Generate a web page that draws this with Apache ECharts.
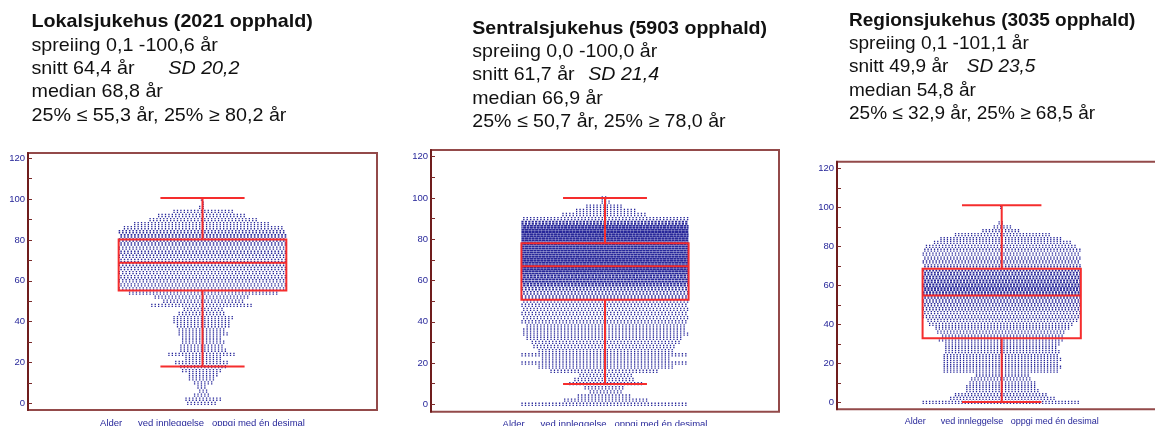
<!DOCTYPE html>
<html>
<head>
<meta charset="utf-8">
<script src="https://cdn.jsdelivr.net/npm/echarts@6/dist/echarts.min.js"></script>
<style>
  html, body { margin: 0; padding: 0; background: #ffffff; }
  #main { width: 1155px; height: 426px; }
</style>
</head>
<body>
<div id="main"></div>
<script>
// Age at admission, one panel per hospital level
const hospitals = ['Lokalsjukehus', 'Sentralsjukehus', 'Regionsjukehus'];
const stays = [2021, 5903, 3035];
const minAge = [0.1, 0.0, 0.1];
const maxAge = [100.6, 100.0, 101.1];
const meanAge = [64.4, 61.7, 49.9];
const sdAge = [20.2, 21.4, 23.5];
const medianAge = [68.8, 66.9, 54.8];
const q1Age = [55.3, 50.7, 32.9];
const q3Age = [80.2, 78.0, 68.5];
const lowerWhisker = [18.0, 9.8, 0.1];

const yTickLabels = [0, 20, 40, 60, 80, 100, 120];
const yTickMarks = [0, 10, 20, 30, 40, 50, 60, 70, 80, 90, 100, 110, 120];
const axisTitle = 'Alder      ved innleggelse   oppgi med én desimal';

// Swarm rows: two-year age bands, number of dots side by side in each band
const ageRows = [0, 2, 4, 6, 8, 10, 12, 14, 16, 18, 20, 22, 24, 26, 28, 30, 32, 34, 36, 38, 40,
  42, 44, 46, 48, 50, 52, 54, 56, 58, 60, 62, 64, 66, 68, 70, 72, 74, 76, 78, 80,
  82, 84, 86, 88, 90, 92, 94, 96, 98, 100];
const lokalRows = [9, 11, 5, 3, 3, 6, 8, 9, 12, 14, 16, 11, 20, 14, 13, 13, 12, 15, 14, 16, 17,
  18, 14, 12, 30, 24, 28, 44, 50, 50, 50, 50, 50, 52, 52, 52, 52, 52, 52, 54, 58,
  58, 54, 47, 40, 32, 26, 18, 2, 1, 1];
const sentralRows = [49, 25, 16, 10, 12, 22, 18, 16, 32, 40, 49, 38, 49, 40, 42, 44, 46, 49, 48, 47, 49,
  49, 49, 49, 50, 52, 56, 58, 62, 75, 85, 80, 95, 100, 110, 115, 115, 115, 115, 110, 105,
  100, 95, 85, 70, 52, 25, 18, 11, 3, 2];
const regionRows = [49, 33, 29, 23, 22, 21, 19, 17, 36, 37, 36, 37, 36, 36, 35, 36, 39, 38, 40, 42, 45,
  47, 49, 50, 52, 54, 56, 62, 66, 68, 68, 66, 64, 62, 58, 54, 52, 50, 50, 49, 47,
  43, 38, 30, 12, 6, 2, 0, 0, 0, 1];
const swarmRows = [lokalRows, sentralRows, regionRows];

const fmt = v => v.toFixed(1).replace('.', ',');

const NAVY = '#27279a';
const RED = '#f52d2d';
const FRAME = '#934a4a';
const FONT = '"Liberation Sans", Arial, sans-serif';

// Panel layout
const panels = [
  { grid: { left: 28, top: 153, width: 349, height: 257 }, y: [-3.28, 122.6], nameSize: 9.5,
    textX: 31.5, textY: [22, 45.5, 68.8, 92, 115.5], sdX: 168.3, stretch: 1.065 },
  { grid: { left: 431, top: 150, width: 348, height: 261.7 }, y: [-3.59, 123.25], nameSize: 9.5,
    textX: 472.3, textY: [28.5, 52, 75.3, 98.5, 122], sdX: 588.3, stretch: 1.058 },
  { grid: { left: 837, top: 161.7, width: 329.4, height: 247.6 }, y: [-3.59, 123.4], nameSize: 9,
    textX: 849, textY: [20.5, 44, 67.3, 90.5, 114], sdX: 966.7, stretch: 1.028 }
];
const X_HALF = 51;          // half frame width, in dots
const ROW_CAP = 49;         // dots that fit side by side inside the frame
const BOX_HALF = 24.5;
const CAP_HALF = 12.3;
const TEXT_SIZE = 18.5;

function swarmItem(params, api) {
  const age = api.value(0);
  const n = api.value(1);
  if (!(n > 0)) return null;
  const across = Math.min(n, ROW_CAP);
  const layers = Math.max(1, n / ROW_CAP);   // rows wider than the frame pile up
  const pitch = api.size([1, 0])[0];
  const dot = Math.min(pitch - 0.25, 1.3 * Math.pow(layers, 1.5));
  const lw = Math.min(1.8, 1.3 * layers);
  const band = Math.round(age / 2);
  const children = [];
  for (let s = 0; s < 2; s++) {
    const a = age - 0.5 + s;
    const p0 = api.coord([-across / 2, a]);
    const p1 = api.coord([across / 2, a]);
    children.push({
      type: 'line',
      silent: true,
      shape: { x1: p0[0], y1: p0[1], x2: p1[0], y2: p1[1] },
      style: {
        stroke: NAVY, lineWidth: lw,
        lineDash: [dot, Math.max(0.25, pitch - dot)],
        lineDashOffset: -(band % 2) * pitch / 2
      }
    });
  }
  return { type: 'group', children };
}

function boxItem(params, api) {
  const low = api.value(1), q1 = api.value(2), med = api.value(3), q3 = api.value(4), high = api.value(5);
  const c = (x, y) => api.coord([x, y]);
  const st = { stroke: RED, lineWidth: 2, fill: null };
  const seg = (a, b) => ({ type: 'line', shape: { x1: a[0], y1: a[1], x2: b[0], y2: b[1] }, style: st });
  const tl = c(-BOX_HALF, q3), br = c(BOX_HALF, q1);
  return {
    type: 'group',
    children: [
      seg(c(0, q3), c(0, high)),
      seg(c(0, q1), c(0, low)),
      seg(c(-CAP_HALF, high), c(CAP_HALF, high)),
      seg(c(-CAP_HALF, low), c(CAP_HALF, low)),
      { type: 'rect', shape: { x: tl[0], y: tl[1], width: br[0] - tl[0], height: br[1] - tl[1] }, style: st },
      seg(c(-BOX_HALF, med), c(BOX_HALF, med))
    ]
  };
}

const grids = [], xAxes = [], yAxes = [], series = [], graphics = [];
panels.forEach((p, i) => {
  grids.push(Object.assign({
    show: true, borderColor: FRAME, borderWidth: 2, backgroundColor: '#ffffff',
    containLabel: false, outerBoundsMode: 'none'
  }, p.grid));
  xAxes.push({
    gridIndex: i, type: 'value', min: -X_HALF, max: X_HALF,
    axisLine: { show: false }, axisTick: { show: false }, axisLabel: { show: false }, splitLine: { show: false },
    name: axisTitle, nameLocation: 'middle', nameGap: 8,
    nameTextStyle: { color: NAVY, fontSize: p.nameSize, fontFamily: FONT }
  });
  yAxes.push({
    gridIndex: i, type: 'value', min: p.y[0], max: p.y[1],
    axisLine: { show: true, onZero: false, lineStyle: { color: '#6f1d1d', width: 2 } },
    axisTick: { show: true, inside: true, length: 4, customValues: yTickMarks, lineStyle: { color: '#7a2a2a', width: 1 } },
    axisLabel: { customValues: yTickLabels, color: NAVY, fontSize: 9.5, fontFamily: FONT, margin: 3 },
    splitLine: { show: false }
  });
  series.push({
    type: 'custom', name: hospitals[i] + ' alder', xAxisIndex: i, yAxisIndex: i,
    renderItem: swarmItem, encode: { x: 1, y: 0 }, clip: false, z: 2,
    data: ageRows.map((a, k) => [a, swarmRows[i][k]])
  });
  series.push({
    type: 'custom', name: hospitals[i] + ' boksplott', xAxisIndex: i, yAxisIndex: i,
    renderItem: boxItem, encode: { x: 0, y: [1, 2, 3, 4, 5] }, clip: false, z: 3,
    data: [[0, lowerWhisker[i], q1Age[i], medianAge[i], q3Age[i], maxAge[i]]]
  });

  const lines = [
    { t: `${hospitals[i]} (${stays[i]} opphald)`, bold: true },
    { t: `spreiing ${fmt(minAge[i])} -${fmt(maxAge[i])} år` },
    { t: `snitt ${fmt(meanAge[i])} år` },
    { t: `median ${fmt(medianAge[i])} år` },
    { t: `25% ≤ ${fmt(q1Age[i])} år, 25% ≥ ${fmt(q3Age[i])} år` }
  ];
  lines.forEach((ln, k) => {
    graphics.push({
      type: 'text', x: p.textX, y: p.textY[k], scaleX: p.stretch, silent: true,
      style: { text: ln.t, fill: '#111111', verticalAlign: 'middle', align: 'left',
        font: (ln.bold ? 'bold ' : '') + TEXT_SIZE + 'px ' + FONT }
    });
  });
  graphics.push({
    type: 'text', x: p.sdX, y: p.textY[2], scaleX: p.stretch, silent: true,
    style: { text: `SD ${fmt(sdAge[i])}`, fill: '#111111', verticalAlign: 'middle', align: 'left',
      font: 'italic ' + TEXT_SIZE + 'px ' + FONT }
  });
});

const chart = echarts.init(document.getElementById('main'), null, { renderer: 'canvas' });
chart.setOption({
  animation: false,
  backgroundColor: '#ffffff',
  grid: grids,
  xAxis: xAxes,
  yAxis: yAxes,
  series: series,
  graphic: graphics
});
</script>
</body>
</html>
